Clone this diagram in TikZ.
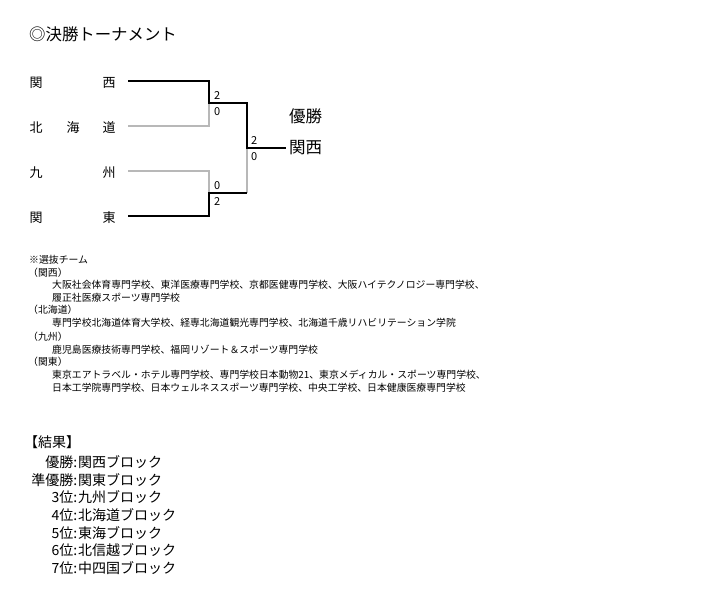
\documentclass[tikz,border=0pt]{standalone}
\usepackage{fontspec}
\setmainfont{Noto Sans CJK JP}
\definecolor{losegray}{HTML}{B8B8B8}
\begin{document}
\begin{tikzpicture}[x=1pt,y=-1pt,
  lbl/.style={inner sep=0pt, anchor=west},
  team/.style={inner sep=0pt, font=\fontsize{13}{15}\selectfont},
  score/.style={inner sep=0pt, anchor=west, font=\fontsize{11}{13}\selectfont},
  note/.style={inner sep=0pt, anchor=west, font=\fontsize{9.85}{12}\selectfont},
  res/.style={inner sep=0pt, font=\fontsize{14}{17}\selectfont},
  winline/.style={line width=2pt, black},
  loseline/.style={line width=2pt, losegray}]
\useasboundingbox (0,0) rectangle (708,596);
\fill[white] (0,0) rectangle (708,596);

% title
\node[lbl, font=\fontsize{16.4}{19}\selectfont] (title) at (29,34) {◎決勝トーナメント};

% teams
\node[team] (t1a) at (36,83) {関};
\node[team] (t1b) at (109,83) {西};
\node[team] (t2a) at (36,128) {北};
\node[team] (t2m) at (73,128) {海};
\node[team] (t2b) at (109,128) {道};
\node[team] (t3a) at (36,173) {九};
\node[team] (t3b) at (109,173) {州};
\node[team] (t4a) at (36,218) {関};
\node[team] (t4b) at (109,218) {東};

% bracket coordinates
\coordinate (a1) at (128,81);
\coordinate (a2) at (128,126);
\coordinate (a3) at (128,171);
\coordinate (a4) at (128,216);
\coordinate (j1) at (209,81);
\coordinate (j2) at (209,126);
\coordinate (j3) at (209,171);
\coordinate (j4) at (209,216);
\coordinate (s1) at (209,103.3);
\coordinate (s2) at (209,193.3);
\coordinate (u1) at (247,103.3);
\coordinate (u2) at (247,193.3);
\coordinate (f) at (247,148.3);
\coordinate (w) at (286,148.3);

% losers (gray)
\draw[loseline] (a2) -- (j2) -- (s1);
\draw[loseline] (a3) -- (j3) -- (s2);
\draw[loseline] (f) -- (u2);
% winners (black)
\draw[winline] (a1) -- (j1) -- (s1) -- (u1) -- (f) -- (w);
\draw[winline] (a4) -- (j4) -- (s2) -- (u2);

% scores
\node[score] (sc1) at (214,95.5) {2};
\node[score] (sc2) at (214,111.5) {0};
\node[score] (sc3) at (214,186) {0};
\node[score] (sc4) at (214,201.5) {2};
\node[score] (sc5) at (251,141) {2};
\node[score] (sc6) at (251,156.5) {0};

% champion
\node[lbl, font=\fontsize{16.5}{19}\selectfont] (champ) at (289,116.5) {優勝};
\node[lbl, font=\fontsize{16.5}{19}\selectfont] (champn) at (289,148) {関西};

% notes
\node[note] (n0) at (29,260) {※選抜チーム};
\node[note] (n1) at (28,272.5) {（関西）};
\node[note] (n2) at (52,285) {大阪社会体育専門学校、東洋医療専門学校、京都医健専門学校、大阪ハイテクノロジー専門学校、};
\node[note] (n3) at (52,297.5) {履正社医療スポーツ専門学校};
\node[note] (n4) at (28,310) {（北海道）};
\node[note] (n5) at (52,323) {専門学校北海道体育大学校、経専北海道観光専門学校、北海道千歳リハビリテーション学院};
\node[note] (n6) at (28,336.5) {（九州）};
\node[note] (n7) at (52,349.5) {鹿児島医療技術専門学校、福岡リゾート＆スポーツ専門学校};
\node[note] (n8) at (28,362) {（関東）};
\node[note] (n9) at (52,375) {東京エアトラベル・ホテル専門学校、専門学校日本動物21、東京メディカル・スポーツ専門学校、};
\node[note] (n10) at (52,388) {日本工学院専門学校、日本ウェルネススポーツ専門学校、中央工学校、日本健康医療専門学校};

% results
\node[res, anchor=west] (rh) at (24,442) {【結果】};
\node[res, anchor=east] (r1l) at (77.5,462) {優勝:};
\node[res, anchor=west] (r1r) at (77.8,462) {関西ブロック};
\node[res, anchor=east] (r2l) at (77.5,479.7) {準優勝:};
\node[res, anchor=west] (r2r) at (77.8,479.7) {関東ブロック};
\node[res, anchor=east] (r3l) at (77.5,497.4) {3位:};
\node[res, anchor=west] (r3r) at (77.8,497.4) {九州ブロック};
\node[res, anchor=east] (r4l) at (77.5,515.1) {4位:};
\node[res, anchor=west] (r4r) at (77.8,515.1) {北海道ブロック};
\node[res, anchor=east] (r5l) at (77.5,532.8) {5位:};
\node[res, anchor=west] (r5r) at (77.8,532.8) {東海ブロック};
\node[res, anchor=east] (r6l) at (77.5,550.5) {6位:};
\node[res, anchor=west] (r6r) at (77.8,550.5) {北信越ブロック};
\node[res, anchor=east] (r7l) at (77.5,568.2) {7位:};
\node[res, anchor=west] (r7r) at (77.8,568.2) {中四国ブロック};
\end{tikzpicture}
\end{document}
